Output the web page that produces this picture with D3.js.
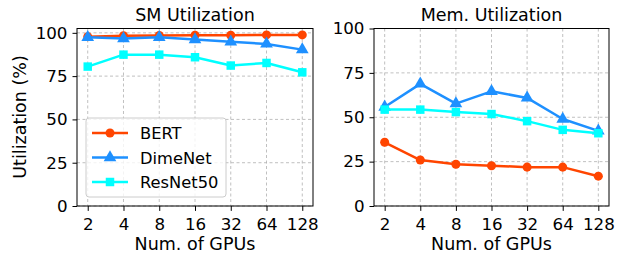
<!DOCTYPE html>
<meta charset="utf-8">
<title>SM and Mem. Utilization</title>
<style>
  body { margin: 0; background: #fff; }
  text { font-family: "DejaVu Sans", sans-serif; fill: #000; }
</style>
<body>
<div id="chart"></div>
<script src="https://cdn.jsdelivr.net/npm/d3@7"></script>
<script>
const gpus = ["2", "4", "8", "16", "32", "64", "128"];
const models = ["BERT", "DimeNet", "ResNet50"];
const yTicks = [0, 25, 50, 75, 100];

// SM utilization (%)
const smBert     = [97.8, 98.3, 98.5, 98.6, 98.6, 98.8, 98.8];
const smDimeNet  = [97.4, 96.7, 97.4, 96.1, 94.8, 93.6, 90.3];
const smResNet50 = [80.5, 87.4, 87.4, 85.9, 81.1, 82.6, 77.2];

// Mem. utilization (%)
const memBert     = [35.9, 25.9, 23.5, 22.7, 21.9, 21.9, 16.8];
const memDimeNet  = [55.8, 68.8, 57.7, 64.6, 60.9, 49.0, 42.3];
const memResNet50 = [54.3, 54.3, 52.9, 51.8, 47.8, 42.9, 41.0];

const colors = {BERT: "#ff4500", DimeNet: "#1e90ff", ResNet50: "#00ffff"};
const symbols = {BERT: d3.symbolCircle, DimeNet: d3.symbolTriangle, ResNet50: d3.symbolSquare};

const width = 619, height = 254;
const plotTop = 28.5, plotBottom = 206;

const svg = d3.select("#chart").append("svg")
  .attr("width", width)
  .attr("height", height);

const panels = [
  {title: "SM Utilization", x0: 77, x1: 313, ymax: 102.5,
   series: [smBert, smDimeNet, smResNet50], legend: true},
  {title: "Mem. Utilization", x0: 374, x1: 609, ymax: 100,
   series: [memBert, memDimeNet, memResNet50], legend: false}
];

function drawMarker(g, name, x, y) {
  const size = name === "DimeNet" ? 70 : name === "ResNet50" ? 72 : 64;
  g.append("path")
    .attr("d", d3.symbol(symbols[name], size)())
    .attr("transform", `translate(${x},${y})`)
    .attr("fill", colors[name]);
}

panels.forEach(p => {
  const x = d3.scalePoint().domain(gpus).range([p.x0, p.x1]).padding(0.3);
  const y = d3.scaleLinear().domain([0, p.ymax]).range([plotBottom, plotTop]);
  const g = svg.append("g");

  // grid
  g.selectAll(".gx").data(gpus).join("line")
    .attr("x1", d => x(d)).attr("x2", d => x(d))
    .attr("y1", plotTop).attr("y2", plotBottom)
    .attr("stroke", "#b0b0b0").attr("stroke-width", 0.8)
    .attr("stroke-dasharray", "3,2.5");
  g.selectAll(".gy").data(yTicks).join("line")
    .attr("x1", p.x0).attr("x2", p.x1)
    .attr("y1", d => y(d)).attr("y2", d => y(d))
    .attr("stroke", "#b0b0b0").attr("stroke-width", 0.8)
    .attr("stroke-dasharray", "3,2.5");

  // lines + markers
  const line = d3.line().x((d, i) => x(gpus[i])).y(d => y(d));
  p.series.forEach((vals, k) => {
    const name = models[k];
    g.append("path").datum(vals)
      .attr("d", line)
      .attr("fill", "none")
      .attr("stroke", colors[name])
      .attr("stroke-width", 2.5)
      .attr("stroke-linejoin", "round");
    vals.forEach((v, i) => drawMarker(g, name, x(gpus[i]), y(v)));
  });

  // frame
  g.append("rect")
    .attr("x", p.x0).attr("y", plotTop)
    .attr("width", p.x1 - p.x0).attr("height", plotBottom - plotTop)
    .attr("fill", "none").attr("stroke", "#000").attr("stroke-width", 1);

  // axes
  const xAxis = g.append("g").attr("transform", `translate(0,${plotBottom})`)
    .call(d3.axisBottom(x).tickSize(4.9).tickPadding(7.5));
  const yAxis = g.append("g").attr("transform", `translate(${p.x0},0)`)
    .call(d3.axisLeft(y).tickValues(yTicks).tickSize(4.5).tickPadding(5));
  [xAxis, yAxis].forEach(a => {
    a.select(".domain").remove();
    a.selectAll("text").style("font-size", "16.7px").attr("font-family", null);
    a.selectAll("line").attr("stroke", "#000");
  });

  // title and x label
  g.append("text")
    .attr("x", (p.x0 + p.x1) / 2).attr("y", 21)
    .attr("text-anchor", "middle")
    .style("font-size", "17.5px")
    .text(p.title);
  g.append("text")
    .attr("x", (p.x0 + p.x1) / 2).attr("y", 250)
    .attr("text-anchor", "middle")
    .style("font-size", "17.5px")
    .text("Num. of GPUs");

  if (p.legend) {
    const lg = g.append("g");
    lg.append("rect")
      .attr("x", 86).attr("y", 118).attr("width", 140).attr("height", 79)
      .attr("rx", 3)
      .attr("fill", "#fff").attr("fill-opacity", 0.8)
      .attr("stroke", "#cccccc").attr("stroke-width", 1);
    models.forEach((name, k) => {
      const ly = 133 + k * 24.5;
      lg.append("line")
        .attr("x1", 92).attr("x2", 128).attr("y1", ly).attr("y2", ly)
        .attr("stroke", colors[name]).attr("stroke-width", 2.5);
      drawMarker(lg, name, 110, ly);
      lg.append("text")
        .attr("x", 140).attr("y", ly + 6)
        .style("font-size", "16.3px")
        .text(name);
    });
  }
});

svg.append("text")
  .attr("transform", "translate(26,117) rotate(-90)")
  .attr("text-anchor", "middle")
  .style("font-size", "17.5px")
  .text("Utilization (%)");
</script>
</body>
